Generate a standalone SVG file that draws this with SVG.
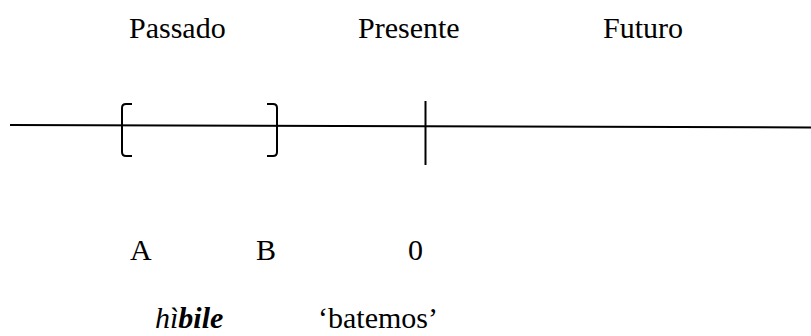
<svg xmlns="http://www.w3.org/2000/svg" width="811" height="336" viewBox="0 0 811 336">
<style>
.t{font-family:"Liberation Serif","Times New Roman",serif;font-size:30px;fill:#000}
.ln{stroke:#000;stroke-width:2;fill:none}
</style>
<rect width="811" height="336" fill="#fff"/>
<g id="labels">
<text id="passado" class="t" x="129" y="38">Passado</text>
<text id="presente" class="t" x="358" y="38">Presente</text>
<text id="futuro" class="t" x="603" y="38">Futuro</text>
</g>
<g id="connectors">
<line class="ln" x1="10" y1="125" x2="811" y2="127.5"/>
<path id="bracket-left" class="ln" d="M132,104 L126,104 Q122,104 122,108 L122,152 Q122,156 126,156 L132,156"/>
<path id="bracket-right" class="ln" d="M267,104 L273,104 Q277,104 277,108 L277,152 Q277,156 273,156 L267,156"/>
<line id="now" class="ln" x1="425.5" y1="101" x2="425.5" y2="165"/>
</g>
<g id="points">
<text id="A" class="t" x="130" y="260">A</text>
<text id="B" class="t" x="256" y="260">B</text>
<text id="zero" class="t" x="408" y="260">0</text>
</g>
<g id="gloss">
<text class="t" x="155" y="328" font-style="italic">hì<tspan font-weight="bold">bile</tspan></text>
<text class="t" x="318" y="328">‘batemos’</text>
</g>
</svg>
